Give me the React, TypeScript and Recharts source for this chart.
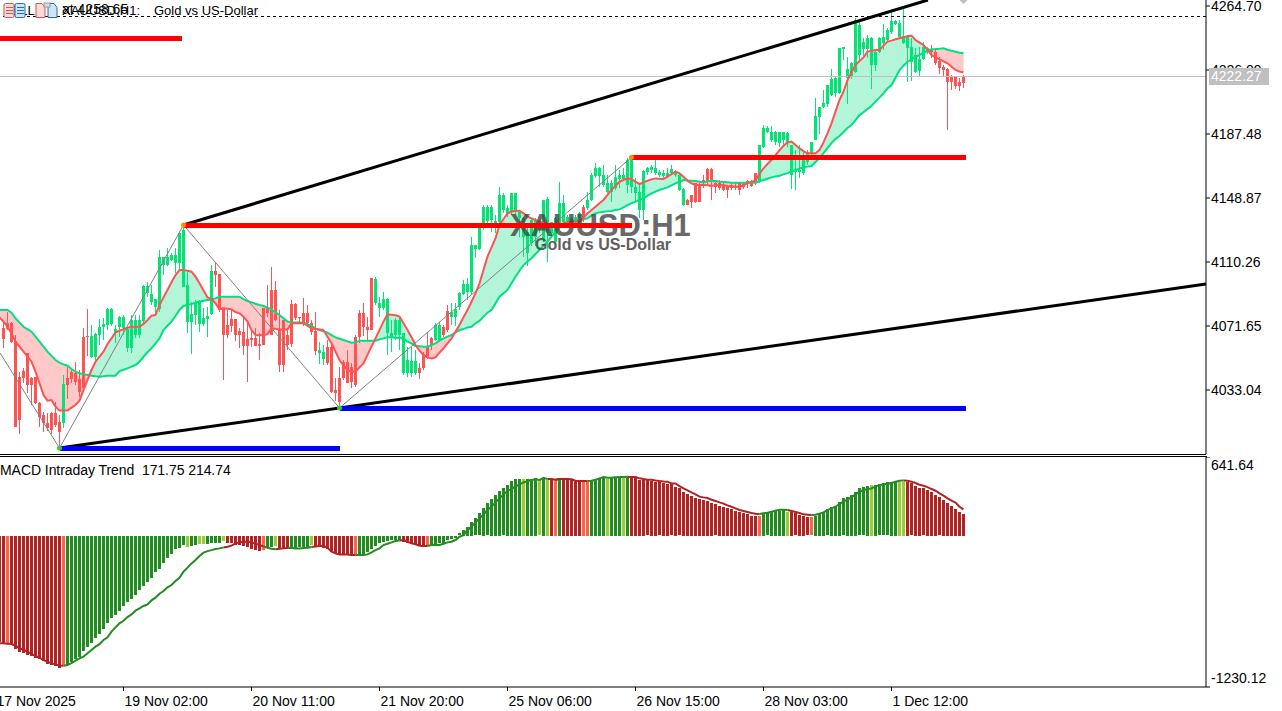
import React from "react";
import { ComposedChart, Bar, Line, Area, XAxis, YAxis, ReferenceLine, ReferenceDot } from "recharts";

const opens = [4070.2,4073.3,4073.3,4062.8,4041.1,4044.7,4055.2,4040.1,4040.7,4025.4,
4018.0,4013.0,4019.4,4019.4,4013.9,4013.3,4040.1,4044.1,4043.1,4039.7,
4065.2,4065.6,4052.7,4052.7,4066.2,4071.2,4072.3,4072.9,4067.2,4071.2,
4070.2,4058.2,4058.2,4066.2,4066.2,4074.9,4091.4,4086.3,4082.9,4081.7,
4108.4,4108.4,4111.5,4109.5,4109.5,4095.4,4074.3,4074.3,4078.3,4072.9,
4072.9,4076.1,4078.9,4104.8,4103.0,4082.3,4072.3,4075.7,4075.7,4068.6,
4068.2,4063.6,4064.6,4064.2,4060.8,4082.3,4082.3,4093.4,4093.4,4069.2,
4075.3,4066.2,4084.9,4084.9,4077.3,4079.3,4079.3,4073.3,4068.8,4055.6,
4051.5,4058.8,4058.8,4033.0,4040.1,4050.1,4050.1,4047.1,4065.2,4079.3,
4079.3,4071.2,4100.4,4085.3,4082.3,4082.3,4067.2,4065.2,4066.2,4066.2,
4043.5,4043.1,4043.5,4043.5,4046.1,4054.6,4059.2,4064.2,4063.2,4063.2,
4071.2,4080.9,4077.3,4077.3,4083.3,4090.9,4092.4,4092.4,4117.9,4117.9,
4130.6,4135.2,4135.6,4133.6,4134.6,4141.6,4140.0,4140.6,4140.6,4136.6,
4125.5,4115.5,4121.5,4125.5,4129.6,4123.5,4127.6,4127.6,4122.5,4131.6,
4134.6,4133.2,4133.2,4134.6,4136.6,4143.6,4142.6,4147.7,4162.1,4162.1,
4156.7,4152.7,4152.7,4154.7,4160.1,4160.1,4156.7,4155.7,4151.7,4141.6,
4141.6,4164.8,4165.8,4164.2,4162.7,4162.1,4161.7,4163.8,4162.7,4153.7,
4144.6,4147.7,4150.7,4157.7,4157.3,4159.7,4166.2,4166.2,4158.1,4157.7,
4156.7,4155.7,4156.7,4156.3,4157.7,4157.3,4159.3,4158.1,4163.8,4158.7,
4179.8,4188.9,4183.9,4182.9,4181.9,4183.9,4181.9,4162.7,4164.8,4164.8,
4163.8,4170.8,4175.8,4183.9,4197.9,4203.6,4205.6,4211.0,4212.0,4212.0,
4238.6,4221.0,4221.7,4225.1,4235.1,4238.7,4238.7,4229.1,4229.1,4237.2,
4242.2,4244.2,4249.2,4253.8,4246.2,4242.2,4239.2,4231.1,4225.1,4225.7,
4232.5,4237.2,4238.2,4237.2,4231.7,4228.1,4226.7,4221.7,4221.7,4219.0,
4222.5];

const closes = [4063.8,4069.6,4062.2,4010.9,4014.9,4040.1,4036.1,4036.1,4025.0,4017.0,
4013.0,4009.9,4008.9,4011.9,4007.9,4036.7,4036.1,4039.5,4038.1,4032.0,
4034.0,4064.8,4065.6,4066.6,4071.2,4072.9,4081.7,4081.7,4069.6,4076.9,
4076.9,4069.6,4075.3,4075.3,4075.3,4095.8,4095.8,4090.9,4087.7,4113.1,
4113.1,4113.5,4114.5,4114.5,4127.6,4129.6,4096.4,4078.9,4086.3,4086.3,
4076.3,4077.7,4105.0,4102.4,4081.3,4066.2,4066.2,4071.6,4066.2,4066.2,
4059.6,4059.6,4063.2,4059.6,4059.6,4060.2,4079.7,4066.2,4075.3,4048.1,
4048.1,4060.2,4060.6,4076.3,4076.3,4074.3,4073.3,4068.2,4056.6,4057.2,
4056.2,4049.5,4032.0,4031.4,4026.0,4040.1,4037.1,4038.1,4036.1,4065.2,
4071.2,4069.2,4069.2,4099.8,4085.7,4087.7,4087.7,4067.2,4075.3,4075.3,
4067.2,4051.1,4050.5,4050.5,4043.5,4046.1,4053.2,4060.2,4072.3,4072.3,
4066.2,4069.2,4080.3,4081.7,4091.4,4097.0,4097.0,4120.5,4120.5,4131.6,
4143.6,4143.6,4143.2,4135.2,4150.7,4150.7,4142.6,4151.7,4151.7,4140.6,
4136.6,4128.6,4135.6,4135.6,4134.6,4147.7,4148.1,4134.6,4136.6,4145.7,
4145.7,4137.6,4136.6,4137.6,4139.6,4136.6,4147.7,4162.7,4166.8,4166.8,
4162.7,4157.7,4157.7,4161.7,4162.7,4162.7,4171.8,4172.2,4155.7,4152.7,
4165.4,4166.8,4167.8,4166.8,4164.8,4164.2,4163.8,4166.2,4164.8,4162.7,
4154.1,4144.6,4146.7,4146.7,4146.7,4157.7,4158.7,4159.3,4155.7,4154.7,
4153.7,4153.7,4154.7,4154.7,4153.7,4155.7,4157.3,4156.1,4158.7,4180.9,
4190.9,4191.3,4188.9,4188.9,4188.9,4188.9,4187.9,4180.9,4165.8,4165.8,
4174.8,4176.8,4182.9,4198.3,4203.6,4206.4,4217.0,4220.5,4221.0,4239.2,
4239.8,4226.5,4230.5,4256.3,4253.2,4243.2,4245.6,4245.6,4237.2,4245.2,
4246.2,4250.2,4255.9,4255.9,4254.6,4246.6,4246.2,4240.2,4235.1,4232.5,
4240.2,4239.2,4237.2,4230.1,4227.1,4226.1,4219.0,4219.0,4216.4,4216.4,
4218.4];

const highs = [4075.3,4080.3,4074.3,4066.2,4044.1,4046.1,4055.2,4041.1,4041.1,4026.0,
4020.0,4019.0,4020.0,4026.0,4018.0,4042.1,4047.1,4045.1,4050.1,4045.1,
4070.6,4081.7,4072.3,4067.2,4075.7,4076.3,4082.3,4082.3,4072.3,4077.7,
4078.3,4071.2,4078.3,4078.3,4078.3,4096.4,4098.4,4096.4,4087.7,4117.5,
4113.5,4118.5,4115.5,4118.5,4128.6,4132.6,4105.4,4086.3,4087.3,4087.3,
4082.3,4083.3,4108.4,4110.5,4103.0,4082.3,4081.3,4081.3,4075.7,4070.2,
4076.3,4075.3,4069.2,4070.2,4067.2,4082.3,4096.4,4107.4,4098.8,4081.3,
4075.3,4069.2,4087.3,4085.3,4077.3,4088.3,4084.3,4075.3,4080.3,4062.2,
4060.2,4063.2,4061.2,4040.1,4047.1,4051.1,4057.2,4049.1,4066.2,4081.3,
4085.3,4077.3,4100.4,4101.4,4089.3,4092.4,4088.3,4075.3,4076.3,4076.3,
4067.2,4059.2,4059.2,4057.2,4049.1,4056.2,4067.6,4065.2,4073.3,4074.3,
4072.3,4084.3,4085.3,4085.3,4092.4,4099.4,4100.4,4125.5,4120.5,4131.6,
4144.6,4144.6,4144.6,4138.6,4155.7,4151.7,4144.6,4151.7,4151.7,4141.6,
4137.6,4133.6,4136.6,4136.6,4135.6,4147.7,4149.7,4134.6,4137.6,4158.7,
4150.7,4138.6,4137.6,4138.6,4140.6,4144.6,4152.7,4163.8,4169.8,4167.8,
4168.8,4162.7,4159.7,4168.8,4165.8,4166.8,4172.8,4173.4,4160.7,4156.7,
4165.8,4167.8,4168.8,4171.8,4165.8,4165.8,4166.8,4168.8,4165.8,4164.8,
4154.7,4148.1,4150.7,4158.1,4157.7,4162.7,4166.8,4166.8,4159.7,4159.7,
4157.7,4156.7,4157.7,4157.7,4158.1,4158.7,4159.7,4159.7,4163.8,4180.9,
4192.9,4192.3,4192.3,4189.5,4188.9,4188.9,4188.9,4180.9,4177.8,4180.9,
4176.8,4177.8,4182.9,4209.0,4204.0,4214.0,4217.0,4226.5,4221.7,4239.6,
4239.8,4234.1,4231.1,4257.3,4255.2,4245.2,4247.2,4246.2,4238.2,4245.8,
4253.8,4251.2,4261.3,4256.3,4256.3,4263.3,4247.2,4245.2,4239.2,4240.2,
4243.2,4240.2,4241.2,4239.2,4234.1,4229.1,4227.1,4223.1,4222.1,4221.1,
4223.1];

const lows = [4058.2,4069.2,4061.8,4010.5,4006.9,4037.1,4031.0,4024.0,4024.6,4010.9,
4007.9,4007.9,4006.9,4010.9,3998.9,4009.9,4028.0,4037.1,4036.1,4029.0,
4032.0,4053.2,4052.1,4050.1,4060.2,4063.2,4069.2,4071.2,4061.2,4065.2,
4066.2,4056.2,4055.2,4064.2,4064.2,4073.3,4089.3,4084.3,4078.3,4080.3,
4102.4,4107.4,4110.5,4103.4,4105.4,4095.0,4067.2,4055.2,4072.3,4068.2,
4071.2,4065.2,4078.3,4095.4,4080.3,4039.1,4064.2,4068.2,4062.2,4058.2,
4054.2,4038.1,4059.2,4059.2,4051.1,4060.2,4077.3,4066.2,4074.9,4044.1,
4044.1,4057.2,4059.2,4075.3,4073.3,4071.2,4071.2,4066.2,4054.2,4049.1,
4048.1,4048.1,4031.0,4026.0,4023.0,4039.1,4037.1,4034.0,4035.0,4061.2,
4065.2,4063.2,4069.2,4084.3,4077.3,4081.3,4054.2,4056.2,4063.2,4057.2,
4042.1,4041.1,4041.1,4042.1,4039.5,4045.1,4052.1,4057.2,4062.2,4062.2,
4065.2,4068.2,4072.3,4071.2,4081.3,4090.4,4087.3,4091.4,4112.5,4117.5,
4129.6,4133.6,4128.6,4127.6,4132.6,4139.6,4137.6,4138.6,4138.6,4125.5,
4113.5,4107.4,4119.5,4119.5,4127.6,4122.5,4110.5,4125.5,4121.5,4129.6,
4131.6,4130.6,4131.6,4133.6,4135.6,4134.6,4141.6,4146.7,4160.7,4155.7,
4155.7,4151.7,4146.7,4153.7,4154.7,4158.7,4151.7,4151.7,4146.7,4136.6,
4135.6,4162.7,4163.8,4162.7,4161.7,4160.7,4160.7,4162.7,4161.7,4153.3,
4143.6,4144.2,4142.6,4146.3,4146.3,4154.7,4155.7,4147.7,4151.7,4153.7,
4152.7,4148.7,4153.7,4153.7,4150.7,4154.7,4154.7,4155.7,4156.7,4157.7,
4178.8,4188.3,4182.9,4180.9,4179.8,4180.9,4179.8,4154.1,4153.7,4160.7,
4162.7,4168.8,4174.8,4183.9,4187.9,4203.0,4204.0,4210.0,4209.6,4211.6,
4232.1,4205.6,4221.0,4224.1,4232.1,4233.1,4233.1,4214.6,4225.7,4236.2,
4238.2,4243.2,4248.2,4253.2,4245.2,4241.8,4219.0,4219.0,4224.1,4222.1,
4232.1,4236.2,4233.1,4229.1,4224.1,4222.1,4189.5,4214.0,4215.0,4213.0,
4215.0];

// moving averages and MACD start one bar earlier than the candles (bar -1, at the chart's left edge)
const fastMa = [4076.8,4074.3,4071.2,4067.2,4062.2,4059.2,4056.2,4053.2,4050.1,4044.1,4037.1,
4030.0,4026.6,4027.0,4023.0,4020.6,4020.6,4020.6,4022.4,4024.0,4026.6,
4033.0,4039.1,4045.1,4050.1,4053.2,4056.2,4060.8,4064.2,4067.8,4068.8,
4069.8,4070.6,4071.2,4071.2,4071.2,4072.9,4075.3,4077.9,4078.3,4084.3,
4088.9,4093.4,4098.0,4102.4,4105.4,4105.4,4105.0,4104.4,4101.4,4097.4,
4093.0,4088.9,4087.9,4085.3,4081.7,4082.3,4082.1,4081.7,4080.1,4079.3,
4077.3,4074.3,4069.2,4066.2,4066.0,4066.0,4066.8,4070.2,4070.0,4069.6,
4069.6,4069.6,4073.3,4073.3,4073.3,4073.3,4071.8,4070.2,4069.8,4069.6,
4069.2,4065.2,4061.2,4056.2,4051.1,4047.7,4045.1,4044.1,4044.1,4046.7,
4049.1,4054.2,4059.2,4064.2,4069.2,4074.3,4078.7,4078.5,4078.1,4077.3,
4073.3,4069.2,4064.8,4060.2,4056.8,4054.2,4052.7,4052.1,4052.7,4055.6,
4058.2,4061.2,4064.2,4068.2,4072.3,4076.9,4081.3,4086.3,4091.4,4097.4,
4105.4,4113.5,4119.1,4124.5,4132.6,4136.2,4139.6,4140.6,4141.2,4141.2,
4139.6,4137.6,4136.6,4135.6,4134.6,4134.0,4132.6,4131.6,4131.2,4132.4,
4133.6,4134.2,4134.6,4134.6,4134.6,4137.0,4139.6,4141.6,4143.6,4145.7,
4147.7,4150.7,4153.7,4156.3,4158.7,4159.7,4160.7,4160.3,4158.7,4157.3,
4158.3,4159.3,4160.1,4160.7,4160.5,4160.3,4161.7,4163.3,4164.8,4163.8,
4161.7,4159.3,4157.7,4156.7,4156.7,4156.7,4156.5,4156.1,4156.5,4156.7,
4156.5,4156.1,4155.7,4155.7,4155.7,4156.7,4157.7,4158.7,4159.3,4163.4,
4166.8,4169.4,4171.8,4174.8,4177.8,4180.4,4182.4,4182.9,4180.9,4178.8,
4177.2,4175.8,4175.8,4175.8,4177.8,4182.4,4187.9,4193.9,4201.0,4208.0,
4213.0,4220.0,4224.7,4229.1,4231.5,4233.7,4237.2,4237.7,4238.2,4238.2,
4240.8,4243.2,4243.8,4244.6,4245.2,4245.8,4246.6,4246.8,4244.2,4242.6,
4241.2,4238.2,4235.1,4233.7,4232.5,4231.3,4230.1,4228.1,4226.1,4225.1,
4224.7];

const slowMa = [4081.3,4081.3,4081.3,4079.7,4076.3,4073.7,4071.2,4069.8,4068.2,4065.2,4062.2,
4059.2,4056.2,4053.6,4051.1,4049.5,4048.5,4047.7,4045.7,4044.1,4043.1,
4042.5,4042.1,4041.7,4041.3,4041.1,4041.3,4041.7,4041.7,4041.7,4044.5,
4045.3,4046.1,4047.1,4048.1,4050.1,4053.1,4055.8,4058.2,4061.2,4064.2,
4069.2,4071.8,4074.3,4077.7,4081.3,4083.7,4084.3,4084.9,4085.7,4086.3,
4086.9,4087.3,4087.7,4088.3,4089.3,4089.3,4089.3,4089.3,4089.3,4089.3,
4087.9,4086.7,4085.9,4085.1,4084.3,4083.7,4082.7,4081.7,4079.9,4078.3,
4076.3,4074.3,4073.9,4073.7,4073.7,4073.7,4072.7,4071.7,4070.2,4069.2,
4068.4,4067.6,4066.2,4064.8,4064.0,4063.2,4062.4,4061.6,4061.8,4062.8,
4062.8,4062.8,4062.8,4062.8,4063.6,4064.2,4064.8,4064.8,4064.6,4064.4,
4064.2,4062.2,4061.2,4059.6,4059.4,4059.2,4059.2,4060.2,4061.2,4062.8,
4064.2,4065.2,4066.2,4067.8,4069.2,4069.8,4070.8,4071.2,4073.3,4074.7,
4077.3,4079.7,4081.3,4085.3,4089.3,4091.4,4093.4,4097.4,4101.4,4105.0,
4108.4,4110.5,4112.5,4115.1,4117.5,4120.1,4122.5,4125.5,4128.6,4131.0,
4133.2,4134.2,4135.0,4135.2,4135.2,4136.0,4136.6,4138.2,4139.6,4140.2,
4140.6,4140.8,4141.0,4141.6,4142.0,4143.2,4144.6,4145.7,4146.7,4147.7,
4148.7,4150.3,4151.7,4152.7,4153.7,4154.5,4155.3,4156.5,4157.7,4158.7,
4159.7,4159.5,4159.3,4159.1,4158.7,4158.3,4159.0,4159.3,4159.1,4158.7,
4158.5,4158.3,4158.1,4158.1,4158.1,4158.1,4158.1,4158.1,4158.1,4158.9,
4159.7,4160.5,4161.3,4161.9,4162.3,4163.1,4163.9,4164.8,4165.8,4166.6,
4167.4,4167.8,4168.2,4170.6,4173.0,4176.0,4179.0,4182.0,4184.5,4186.3,
4188.7,4191.1,4192.9,4195.9,4198.9,4200.6,4202.6,4204.4,4207.0,4209.4,
4212.0,4215.0,4217.0,4221.4,4226.1,4228.7,4231.1,4232.5,4234.1,4235.1,
4236.5,4237.7,4238.6,4238.7,4238.9,4239.2,4238.3,4237.7,4237.1,4236.5,
4236.2];

const macdHist = [-862,-867,-875,-881,-916,-943,-956,-970,-978,-989,-1003,
-1019,-1038,-1051,-1060,-1073,-1051,-1046,-1024,-1003,-984,
-937,-902,-867,-829,-794,-758,-707,-666,-639,-609,
-571,-536,-514,-482,-441,-406,-373,-338,-297,-265,
-216,-183,-143,-102,-97,-75,-88,-80,-75,-69,
-69,-69,-61,-53,-53,-42,-53,-61,-75,-75,
-80,-88,-102,-110,-124,-116,-97,-88,-80,-97,
-102,-107,-102,-97,-91,-88,-86,-75,-80,-88,
-97,-107,-134,-143,-151,-156,-151,-151,-151,-156,
-156,-134,-102,-83,-61,-48,-42,-34,-34,-34,
-48,-61,-67,-75,-83,-83,-83,-75,-69,-61,
-53,-34,-26,-20,20,47,74,115,142,183,
224,264,299,332,365,386,413,446,462,462,
462,462,462,468,451,473,457,457,457,457,
457,462,462,449,446,441,441,446,462,473,
481,462,468,473,479,473,479,479,468,454,
454,451,446,441,435,430,424,419,400,386,
359,340,324,310,299,291,283,270,256,245,
237,224,218,205,196,188,177,164,164,164,
175,183,196,205,205,210,196,196,183,169,
161,150,150,164,175,196,215,237,245,278,
305,319,332,359,386,394,408,413,413,419,
427,435,441,449,441,441,441,427,408,392,
386,373,359,332,313,291,270,245,218,196,
177];

const macdSignal = [-873,-875,-878,-881,-894,-916,-927,-943,-962,-978,-992,
-1011,-1024,-1038,-1046,-1057,-1057,-1051,-1035,-1016,-997,
-984,-956,-929,-902,-881,-848,-826,-780,-745,-712,
-691,-661,-639,-609,-590,-571,-558,-525,-503,-471,
-449,-419,-400,-368,-341,-292,-259,-224,-197,-164,
-137,-124,-116,-107,-102,-94,-88,-80,-61,-53,
-48,-48,-53,-64,-75,-86,-97,-105,-110,-105,
-102,-99,-97,-102,-102,-99,-97,-91,-86,-83,
-80,-97,-129,-143,-151,-151,-151,-156,-156,-156,
-156,-151,-134,-116,-102,-75,-64,-53,-42,-37,
-34,-48,-61,-69,-80,-83,-83,-75,-75,-75,
-64,-53,-48,-34,-7,6,47,74,110,142,
175,210,237,272,305,337,365,381,403,419,
435,446,454,460,454,473,462,462,457,462,
462,462,460,449,446,446,446,449,457,468,
479,473,473,476,479,479,481,479,479,468,
462,457,457,451,446,443,441,427,427,405,
386,370,354,337,319,313,308,294,283,272,
262,248,237,224,210,202,194,186,180,177,
183,188,196,205,213,213,210,202,194,186,
175,172,169,172,180,191,210,224,237,259,
278,294,313,337,359,373,381,386,403,411,
419,424,430,441,449,451,449,441,430,416,
408,397,381,367,346,327,305,286,270,237,
215];

// state runs of the histogram: R falling-dark, T falling-light, G rising-dark, L rising-light
const macdRuns: [string, number][] = [["R",2],["T",1],["R",13],["T",1],["G",30],["L",1],["G",2],["L",2],["G",4],["L",1],["R",9],["T",1],["G",2],["L",1],["R",3],["G",5],["L",1],["R",10],["T",1],["G",11],["R",6],["T",1],["G",23],["L",1],["G",3],["L",1],["G",1],["L",1],["R",1],["T",1],["G",1],["R",5],["T",2],["G",4],["L",1],["G",3],["L",1],["G",1],["R",32],["T",1],["G",6],["L",1],["R",5],["T",1],["G",14],["L",1],["G",6],["L",2],["R",15]];

const priceTicks = [4264.70, 4226.09, 4187.48, 4148.87, 4110.26, 4071.65, 4033.04];
const macdTicks = [641.64, -1230.12];
const timeTickBars = [-2, 30, 62, 94, 126, 158, 190, 222];
const timeTickLabels = ["17 Nov 2025","19 Nov 02:00","20 Nov 11:00","21 Nov 20:00","25 Nov 06:00","26 Nov 15:00","28 Nov 03:00","1 Dec 12:00"];

const lastPrice = 4222.27;
const dashedLevel = 4258.65;
const zigzag: [number, number][] = [[-0.875,4055.4],[14,3998.0],[45,4132.6],[84,4022.2],[157,4173.4]];
const trendUpper: [number, number][] = [[45,4132.6],[231.1,4268.32]];
const trendLower: [number, number][] = [[14,3998.0],[300.6,4097.0]];
const redLevels: [number, number, number][] = [[-0.875,44.5,4245.1],[45,157,4132.3],[157,240.5,4173.3]];
const blueLevels: [number, number, number][] = [[14,84,3997.7],[84,240.5,4021.9]];

const FONT = '"Liberation Sans", Arial, sans-serif';
const UP = "#00E676";
const DOWN = "#FF5252";
const STATE_COLOR: Record<string, string> = { R: "#B22222", T: "#FF6347", G: "#228B22", L: "#9ACD32" };

const states = macdRuns.flatMap(([s, n]) => Array.from({ length: n }, () => s));
const rows = fastMa.map((fast, k) => {
  const i = k - 1;
  return { i, o: opens[i], c: closes[i], h: highs[i], l: lows[i], fast, slow: slowMa[k] };
});
const macdRows = macdHist.map((v, k) => ({
  i: k - 1, v, sig: macdSignal[k], st: states[k], next: states[k + 1] ?? states[k], prev: states[k - 1] ?? states[k],
}));
const isUp = (s: string) => s === "G" || s === "L";

const X_DOMAIN: [number, number] = [-0.875, 300.625];
const Y_DOMAIN: [number, number] = [3994.43, 4268.32];

function Candle(p: any) {
  const { x, y, width, height, payload: d } = p;
  if (d.h == null) return null;
  const top = Math.min(y, y + height);
  const h = Math.abs(height);
  const cx = x + width / 2;
  const k = h / (d.h - d.l);
  const py = (v: number) => top + (d.h - v) * k;
  const bt = Math.round(py(Math.max(d.o, d.c)));
  const bb = Math.round(py(Math.min(d.o, d.c)));
  const col = d.c >= d.o ? UP : DOWN;
  const left = Math.round(cx - 1.5);
  return (
    <g shapeRendering="crispEdges">
      <rect x={left + 1} y={Math.round(top)} width={1} height={Math.max(1, Math.round(h))} fill={col} />
      <rect x={left} y={bt} width={3} height={Math.max(1, bb - bt)} fill={col} />
    </g>
  );
}

function HistBar(p: any) {
  const { x, y, width, height, payload: d } = p;
  const top = Math.min(y, y + height);
  const cx = x + width / 2;
  return <rect shapeRendering="crispEdges" x={Math.round(cx - 1.5)} y={Math.round(top)} width={3} height={Math.round(Math.abs(height))} fill={STATE_COLOR[d.st]} />;
}

function PriceTick(p: any) {
  return <text x={1211} y={p.y + 5} fontFamily={FONT} fontSize={14} fill="#000">{p.payload.value.toFixed(2)}</text>;
}
function MacdTick(p: any) {
  const dy = p.payload.value > 0 ? 13 : -4;
  return <text x={1211} y={p.y + dy} fontFamily={FONT} fontSize={14} fill="#000">{p.payload.value.toFixed(2)}</text>;
}
function TimeTick(p: any) {
  const idx = timeTickBars.indexOf(p.payload.value);
  return <text x={p.x + 1} y={p.y + 13} fontFamily={FONT} fontSize={14} fill="#000">{timeTickLabels[idx]}</text>;
}
function MarkerDown(p: any) {
  const { cx, cy } = p;
  return <polygon points={`${cx - 4},${cy} ${cx + 4},${cy} ${cx},${cy + 4}`} fill="#C0C0C0" />;
}

function Icons() {
  const box = (x: number, c: string, f: string) => (
    <g key={x}>
      <rect x={x} y={3.5} width={10} height={14} rx={1.5} fill={f} stroke={c} strokeWidth={1} />
      <path d={`M${x + 2} 7.5h7M${x + 2} 10.5h7M${x + 2} 13.5h7`} stroke={c} strokeWidth={1} />
    </g>
  );
  const doc = (x: number, c: string, f: string) => (
    <g key={x}>
      <path d={`M${x} 3.5h6l3 4v10h-9z`} fill={f} stroke={c} strokeWidth={1} />
    </g>
  );
  return (
    <svg width={62} height={20} style={{ position: "absolute", left: 0, top: 0 }}>
      {box(4, "#d9534f", "#fbdcdc")}
      {box(15, "#1f6fb0", "#cfe6fa")}
      {doc(36, "#d9534f", "#fbdcdc")}
      {doc(48, "#1f6fb0", "#cfe6fa")}
      <rect x={44} y={3} width={6} height={4} fill="#ddd" stroke="#999" />
    </svg>
  );
}

export default function App() {
  return (
    <div style={{ position: "absolute", left: 0, top: 0, width: 1282, height: 711, background: "#fff", overflow: "hidden", fontFamily: FONT }}>
      <div style={{ position: "absolute", left: 0, top: 0 }}>
        <ComposedChart width={1282} height={455} data={rows} margin={{ top: 0, right: 0, bottom: 1, left: 0 }}>
          <XAxis dataKey="i" type="number" domain={X_DOMAIN} allowDataOverflow hide />
          <YAxis orientation="right" width={76} domain={Y_DOMAIN} allowDataOverflow ticks={priceTicks} interval={0} tick={PriceTick} tickSize={4} stroke="#000" />
          <Area dataKey={(d: any) => (d.fast >= d.slow ? [d.slow, d.fast] : [d.slow, d.slow])} stroke="none" fill="#B3F5D9" fillOpacity={1} isAnimationActive={false} dot={false} activeDot={false} />
          <Area dataKey={(d: any) => (d.fast < d.slow ? [d.fast, d.slow] : [d.slow, d.slow])} stroke="none" fill="#FFC9C9" fillOpacity={1} isAnimationActive={false} dot={false} activeDot={false} />
          <ReferenceLine y={lastPrice} stroke="#C0C0C0" strokeWidth={1} shapeRendering="crispEdges" />
          <ReferenceLine y={dashedLevel} stroke="#000" strokeWidth={1} strokeDasharray="3 3" shapeRendering="crispEdges" />
          <Bar dataKey={(d: any) => (d.h == null ? null : [d.l, d.h])} barSize={3} shape={Candle} isAnimationActive={false} />
          <Line dataKey="slow" stroke="#00E080" strokeWidth={2} dot={false} activeDot={false} isAnimationActive={false} />
          <Line dataKey="fast" stroke={DOWN} strokeWidth={2} dot={false} activeDot={false} isAnimationActive={false} />
          {zigzag.slice(1).map((pt, k) => (
            <ReferenceLine key={"z" + k} ifOverflow="visible" stroke="#808080" strokeWidth={1} segment={[{ x: zigzag[k][0], y: zigzag[k][1] }, { x: pt[0], y: pt[1] }]} />
          ))}
        </ComposedChart>
      </div>

      <div style={{ position: "absolute", left: 510, top: 208, width: 190, fontSize: 31, fontWeight: 700, lineHeight: "36px", color: "#444", opacity: 0.8 }}>XAUUSD:H1</div>
      <div style={{ position: "absolute", left: 535, top: 236, width: 160, fontSize: 16, fontWeight: 700, lineHeight: "18px", color: "#444", opacity: 0.85 }}>Gold vs US-Dollar</div>

      <div style={{ position: "absolute", left: 0, top: 0 }}>
        <ComposedChart width={1282} height={455} data={rows} margin={{ top: 0, right: 76, bottom: 1, left: 0 }}>
          <XAxis dataKey="i" type="number" domain={X_DOMAIN} allowDataOverflow hide />
          <YAxis domain={Y_DOMAIN} allowDataOverflow hide />
          <ReferenceLine ifOverflow="visible" stroke="#000" strokeWidth={3} segment={[{ x: trendUpper[0][0], y: trendUpper[0][1] }, { x: trendUpper[1][0], y: trendUpper[1][1] }]} />
          <ReferenceLine ifOverflow="visible" stroke="#000" strokeWidth={3} segment={[{ x: trendLower[0][0], y: trendLower[0][1] }, { x: trendLower[1][0], y: trendLower[1][1] }]} />
          {redLevels.map(([a, b, v]) => (
            <ReferenceLine key={"r" + a} ifOverflow="visible" stroke="#FF0000" strokeWidth={5} shapeRendering="crispEdges" segment={[{ x: a, y: v }, { x: b, y: v }]} />
          ))}
          {blueLevels.map(([a, b, v]) => (
            <ReferenceLine key={"b" + a} ifOverflow="visible" stroke="#0000FF" strokeWidth={5} shapeRendering="crispEdges" segment={[{ x: a, y: v }, { x: b, y: v }]} />
          ))}
          <ReferenceDot x={45} y={4132.6} r={2.5} fill="#FF8C00" stroke="none" />
          <ReferenceDot x={157} y={4173.4} r={2.5} fill="#FF8C00" stroke="none" />
          <ReferenceDot x={14} y={3998.0} r={2.5} fill="#32CD32" stroke="none" />
          <ReferenceDot x={84} y={4022.2} r={2.5} fill="#32CD32" stroke="none" />
          <ReferenceDot x={240} y={4268.3} shape={MarkerDown} />
        </ComposedChart>
      </div>

      {/* pane separators */}
      <div style={{ position: "absolute", left: 0, top: 454, width: 1206, height: 1, background: "#000" }} />
      <div style={{ position: "absolute", left: 0, top: 456, width: 1207, height: 1, background: "#000" }} />

      <div style={{ position: "absolute", left: 0, top: 457 }}>
        <ComposedChart width={1282} height={254} data={macdRows} margin={{ top: 0, right: 0, bottom: 0, left: 0 }}>
          <XAxis dataKey="i" type="number" domain={X_DOMAIN} allowDataOverflow ticks={timeTickBars} interval={0} height={24} tick={TimeTick} tickSize={4} stroke="#000" />
          <YAxis orientation="right" width={76} domain={[-1230.12, 641.64]} allowDataOverflow ticks={macdTicks} interval={0} tick={MacdTick} tickSize={4} stroke="#000" />
          <Bar dataKey="v" barSize={3} shape={HistBar} isAnimationActive={false} />
          <Line dataKey={(d: any) => (isUp(d.st) || isUp(d.next) ? d.sig : null)} stroke="#228B22" strokeWidth={2} dot={false} activeDot={false} isAnimationActive={false} />
          <Line dataKey={(d: any) => (!isUp(d.st) || !isUp(d.next) ? d.sig : null)} stroke="#B22222" strokeWidth={2} dot={false} activeDot={false} isAnimationActive={false} />
        </ComposedChart>
      </div>

      <div style={{ position: "absolute", left: 1209, top: 68, width: 60, height: 17, background: "#C0C0C0", color: "#fff", fontSize: 14, lineHeight: "17px", paddingLeft: 2, boxSizing: "border-box" }}>4222.27</div>

      <div style={{ position: "absolute", left: 3, top: 3, fontSize: 13, lineHeight: "16px", color: "#000" }}>SELL</div>
      <Icons />
      <div style={{ position: "absolute", left: 62, top: 1, fontSize: 14, lineHeight: "16px", color: "#000", whiteSpace: "pre" }}>at 4258.65</div>
      <div style={{ position: "absolute", left: 62, top: 3, fontSize: 13, lineHeight: "16px", color: "#000", whiteSpace: "pre" }}>XAUUSD,H1:</div>
      <div style={{ position: "absolute", left: 154, top: 3, fontSize: 13, lineHeight: "16px", color: "#000", whiteSpace: "pre" }}>Gold vs US-Dollar</div>
      <div style={{ position: "absolute", left: 0, top: 462, fontSize: 14, lineHeight: "16px", color: "#000", whiteSpace: "pre", letterSpacing: -0.06 }}>MACD Intraday Trend  171.75 214.74</div>
    </div>
  );
}
